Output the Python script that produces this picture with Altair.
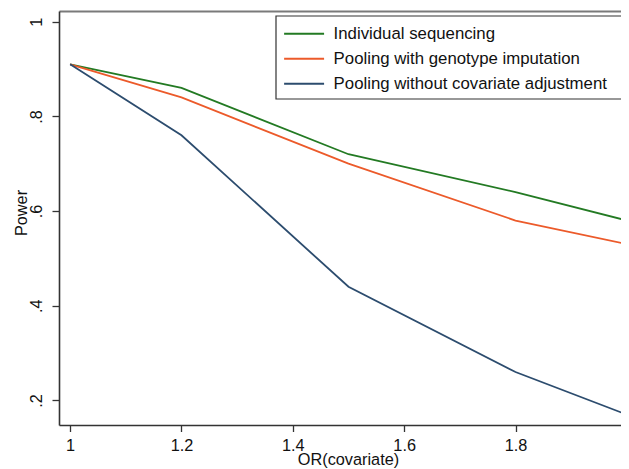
import altair as alt
import pandas as pd

or_values = [1.0, 1.2, 1.5, 1.8, 2.0]
individual = [0.91, 0.86, 0.72, 0.64, 0.58]
pooling_imp = [0.91, 0.84, 0.70, 0.58, 0.53]
pooling_nocov = [0.91, 0.76, 0.44, 0.26, 0.17]

series_names = [
    "Individual sequencing",
    "Pooling with genotype imputation",
    "Pooling without covariate adjustment",
]
series_colors = ["#237a23", "#ec5a2a", "#2c4c6e"]
x_ticks = [1, 1.2, 1.4, 1.6, 1.8, 2]
y_ticks = [0.2, 0.4, 0.6, 0.8, 1.0]

rows = []
for name, vals in zip(series_names, [individual, pooling_imp, pooling_nocov]):
    for x, v in zip(or_values, vals):
        rows.append({"OR": x, "Power": v, "Series": name})
df = pd.DataFrame(rows)

FONT = "Liberation Sans"
xscale = alt.Scale(domain=[0.98, 1.9895], nice=False, zero=False)
yscale = alt.Scale(domain=[0.148, 1.0226], nice=False, zero=False)

yaxis = alt.Axis(
    values=y_ticks,
    labelExpr="datum.value >= 0.99 ? '1' : '.' + format(datum.value * 10, 'd')",
    labelAngle=270,
    labelAlign="center",
    labelBaseline="alphabetic",
    labelPadding=10.5,
    tickSize=7,
    tickColor="#333333",
    tickWidth=1.3,
    domainColor="#333333",
    domainWidth=1.6,
    labelFont=FONT,
    labelFontSize=16.3,
    labelColor="#111111",
    grid=False,
    title="Power",
    titleFont=FONT,
    titleFontSize=16.3,
    titleFontWeight="normal",
    titleColor="#111111",
    titleAngle=270,
    titleX=-33,
    titleY=201.5,
    titleAlign="center",
    titleBaseline="alphabetic",
)

xaxis = alt.Axis(
    values=x_ticks,
    format="~g",
    labelFlush=False,
    labelOverlap=False,
    labelBaseline="alphabetic",
    labelPadding=18.5,
    tickSize=6.5,
    tickColor="#333333",
    tickWidth=1.3,
    domainColor="#333333",
    domainWidth=1.6,
    labelFont=FONT,
    labelFontSize=16.3,
    labelColor="#111111",
    grid=False,
    title="OR(covariate)",
    titleFont=FONT,
    titleFontSize=16.3,
    titleFontWeight="normal",
    titleColor="#111111",
    titleX=289,
    titleY=39,
    titleAlign="center",
    titleBaseline="alphabetic",
)

top_axis = alt.Axis(
    orient="top",
    labels=False,
    ticks=False,
    grid=False,
    title=None,
    domainColor="#7a7a7a",
    domainWidth=2,
)

legend = alt.Legend(
    title="\u00a0",
    titleOrient="right",
    titlePadding=30,
    orient="none",
    legendX=216.7,
    legendY=4.7,
    symbolType="M-1.8,0H1.8",
    symbolSize=493,
    symbolOffset=10.4,
    symbolStrokeWidth=2,
    labelOffset=17,
    labelFont=FONT,
    labelFontSize=16.8,
    labelColor="#111111",
    labelLimit=400,
    padding=5.5,
    rowPadding=3,
    fillColor="white",
    strokeColor="#333333",
)

lines = alt.Chart(df).mark_line(strokeWidth=1.8).encode(
    x=alt.X("OR:Q", scale=xscale, axis=xaxis),
    y=alt.Y("Power:Q", scale=yscale, axis=yaxis),
    color=alt.Color(
        "Series:N",
        scale=alt.Scale(domain=series_names, range=series_colors),
        sort=series_names,
        legend=legend,
    ),
    detail="Series:N",
)

frame_top = alt.Chart(df).mark_line(opacity=0).encode(
    x=alt.X("OR:Q", scale=xscale, axis=top_axis),
    y=alt.Y("Power:Q", scale=yscale, axis=yaxis),
    detail="Series:N",
)

chart = (
    alt.layer(lines, frame_top)
    .resolve_axis(x="independent")
    .properties(
        width=562,
        height=414,
        autosize=alt.AutoSizeParams(type="none"),
        padding={"left": 51, "top": 3, "right": 0, "bottom": 44},
        background="white",
    )
    .configure_view(strokeWidth=0)
    .configure_legend(strokeWidth=1.2)
)

chart.save("out.html", embed_options={"renderer": "svg", "actions": False})
